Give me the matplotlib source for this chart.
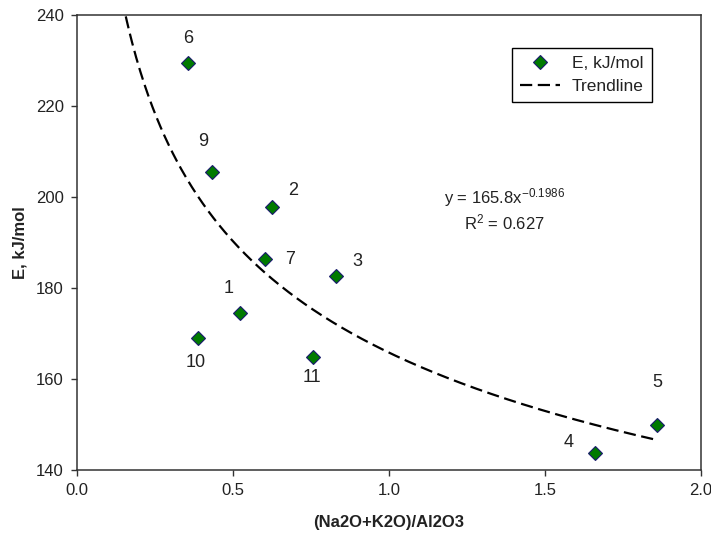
import numpy as np
import matplotlib
matplotlib.use("Agg")
import matplotlib.pyplot as plt

plt.rcParams['font.family'] = ['Liberation Sans', 'DejaVu Sans']
plt.rcParams['mathtext.fontset'] = 'custom'
plt.rcParams['mathtext.rm'] = 'Liberation Sans'
plt.rcParams['mathtext.it'] = 'Liberation Sans:italic'
plt.rcParams['mathtext.bf'] = 'Liberation Sans:bold'

# Sample numbers, alkali/alumina ratio and activation energy
sample_ids = ['1', '2', '3', '4', '5', '6', '7', '9', '10', '11']
ratio = [0.523, 0.626, 0.830, 1.660, 1.859, 0.356, 0.602, 0.432, 0.388, 0.757]
energy = [174.6, 197.9, 182.6, 143.7, 150.0, 229.4, 186.3, 205.6, 169.1, 164.9]

# Power-law trendline coefficients and fit quality
coef_a = 165.8
coef_b = -0.1986
r_squared = 0.627

x_ticks = [0.0, 0.5, 1.0, 1.5, 2.0]
y_ticks = [140, 160, 180, 200, 220, 240]

# label offsets in pixels (dx, dy) for each sample number
label_offsets = {
    '1': (-12, 24), '2': (21, 16), '3': (21, 15), '4': (-26, 11),
    '5': (0, 42), '6': (0, 25), '7': (25, 0), '9': (-9, 30),
    '10': (-2, -25), '11': (-1, -21),
}

fig = plt.figure(figsize=(7.11, 5.41), dpi=100)
ax = fig.add_axes([77 / 711, 1 - 470 / 541, (701 - 77) / 711, (470 - 15) / 541])

text_col = '#222222'
axis_col = '#333333'

# trendline from the fitted power law
xt = np.linspace(0.12, max(ratio), 400)
yt = coef_a * xt ** coef_b
ax.plot(xt, yt, linestyle=(0, (5.5, 2.5)), color='black', linewidth=1.6,
        label='Trendline', zorder=2)

ax.plot(ratio, energy, linestyle='none', marker='D', markersize=7.2,
        markerfacecolor='#007A00', markeredgecolor='#1A1A6E',
        markeredgewidth=0.8, label='E, kJ/mol', zorder=3)

for sid, xv, yv in zip(sample_ids, ratio, energy):
    dx, dy = label_offsets[sid]
    ax.annotate(sid, (xv, yv), xytext=(dx, dy), textcoords='offset pixels',
                ha='center', va='center', fontsize=13, color=text_col)

# fitted equation and R squared
ax.text(1.37, 199.8, r'y = %.1fx$^{\mathrm{%.4f}}$' % (coef_a, coef_b),
        ha='center', va='center', fontsize=12, color=text_col)
ax.text(1.37, 194.3, r'R$^{\mathrm{2}}$ = %.3f' % r_squared, ha='center',
        va='center', fontsize=12, color=text_col)

ax.set_xlim(0, 2.0)
ax.set_ylim(140, 240)
ax.set_xticks(x_ticks)
ax.set_yticks(y_ticks)
ax.set_xticklabels(['%.1f' % v for v in x_ticks])
ax.set_yticklabels(['%d' % v for v in y_ticks])
ax.tick_params(direction='out', length=4.5, width=1.0, colors=axis_col,
               labelcolor=text_col, labelsize=12, pad=5)
for sp in ax.spines.values():
    sp.set_color(axis_col)
    sp.set_linewidth(1.1)

ax.set_xlabel('(Na2O+K2O)/Al2O3', fontsize=12, fontweight='bold',
              color=text_col, labelpad=12)
ax.set_ylabel('E, kJ/mol', fontsize=12, fontweight='bold', color=text_col,
              labelpad=6)

handles, labels = ax.get_legend_handles_labels()
leg = ax.legend(handles[::-1], labels[::-1], loc='upper right',
                bbox_to_anchor=(0.921, 0.927), fontsize=12.5, frameon=True,
                fancybox=False, edgecolor='black', framealpha=1,
                handlelength=2.3, borderpad=0.45, labelspacing=0.45,
                handletextpad=0.7, borderaxespad=0)
leg.get_frame().set_linewidth(1.0)
for t in leg.get_texts():
    t.set_color(text_col)

fig.savefig('out.png', dpi=100)
